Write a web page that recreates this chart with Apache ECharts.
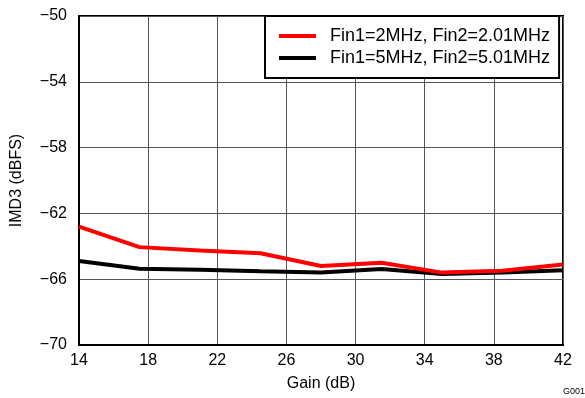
<!DOCTYPE html>
<html><head><meta charset="utf-8">
<script src="https://cdn.jsdelivr.net/npm/echarts@6/dist/echarts.min.js"></script>
<style>html,body{margin:0;padding:0;background:#fff}#c{width:585px;height:398px}</style>
</head><body><div id="c"></div>
<script>
const gain = [14, 17.5, 21, 24.5, 28, 31.5, 35, 38.5, 42];
const red2MHz = [-62.8, -64.05, -64.25, -64.42, -65.2, -65.0, -65.6, -65.48, -65.1];
const black5MHz = [-64.9, -65.36, -65.42, -65.52, -65.6, -65.38, -65.68, -65.6, -65.45];
const seriesNames = ['Fin1=2MHz, Fin2=2.01MHz', 'Fin1=5MHz, Fin2=5.01MHz'];
const font = 'Liberation Sans, Arial, sans-serif';
const chart = echarts.init(document.getElementById('c'));
const pairs = (xs, ys) => xs.map((x, i) => [x, ys[i]]);
chart.setOption({
  animation: false,
  grid: {left: 79, right: 22, top: 16, bottom: 53, show: true, borderColor: '#000', borderWidth: 2},
  xAxis: {
    type: 'value', min: 14, max: 42, interval: 4,
    name: 'Gain (dB)', nameLocation: 'middle', nameGap: 31,
    nameTextStyle: {fontFamily: font, fontSize: 16, color: '#000'},
    axisLine: {show: true, lineStyle: {color: '#000', width: 2}},
    axisTick: {show: false},
    axisLabel: {fontFamily: font, fontSize: 16, color: '#000', margin: 8},
    splitLine: {show: true, lineStyle: {color: '#555', width: 1}}
  },
  yAxis: {
    type: 'value', min: -70, max: -50, interval: 4,
    name: 'IMD3 (dBFS)', nameLocation: 'middle', nameGap: 54,
    nameTextStyle: {fontFamily: font, fontSize: 16, color: '#000'},
    axisLine: {show: true, lineStyle: {color: '#000', width: 2}},
    axisTick: {show: false},
    axisLabel: {fontFamily: font, fontSize: 16, color: '#000', margin: 12,
      formatter: v => String(v).replace('-', '\u2212')},
    splitLine: {show: true, lineStyle: {color: '#555', width: 1}}
  },
  legend: {
    orient: 'vertical', left: 265, top: 16,
    backgroundColor: '#fff', borderColor: '#000', borderWidth: 2,
    padding: [11, 9, 11, 14], itemGap: 4,
    itemWidth: 37, itemHeight: 4,
    icon: 'rect',
    textStyle: {fontFamily: font, fontSize: 18, color: '#000', padding: [0, 0, 0, 9]},
    data: seriesNames
  },
  graphic: [{type: 'text', right: 0, bottom: 2,
    style: {text: 'G001', font: '9px ' + font, fill: '#000'}}],
  series: [
    {name: seriesNames[0], type: 'line', data: pairs(gain, red2MHz), showSymbol: false,
     lineStyle: {color: '#ff0000', width: 4}, itemStyle: {color: '#ff0000'}, z: 3},
    {name: seriesNames[1], type: 'line', data: pairs(gain, black5MHz), showSymbol: false,
     lineStyle: {color: '#000', width: 4}, itemStyle: {color: '#000'}, z: 2}
  ]
});
</script></body></html>
